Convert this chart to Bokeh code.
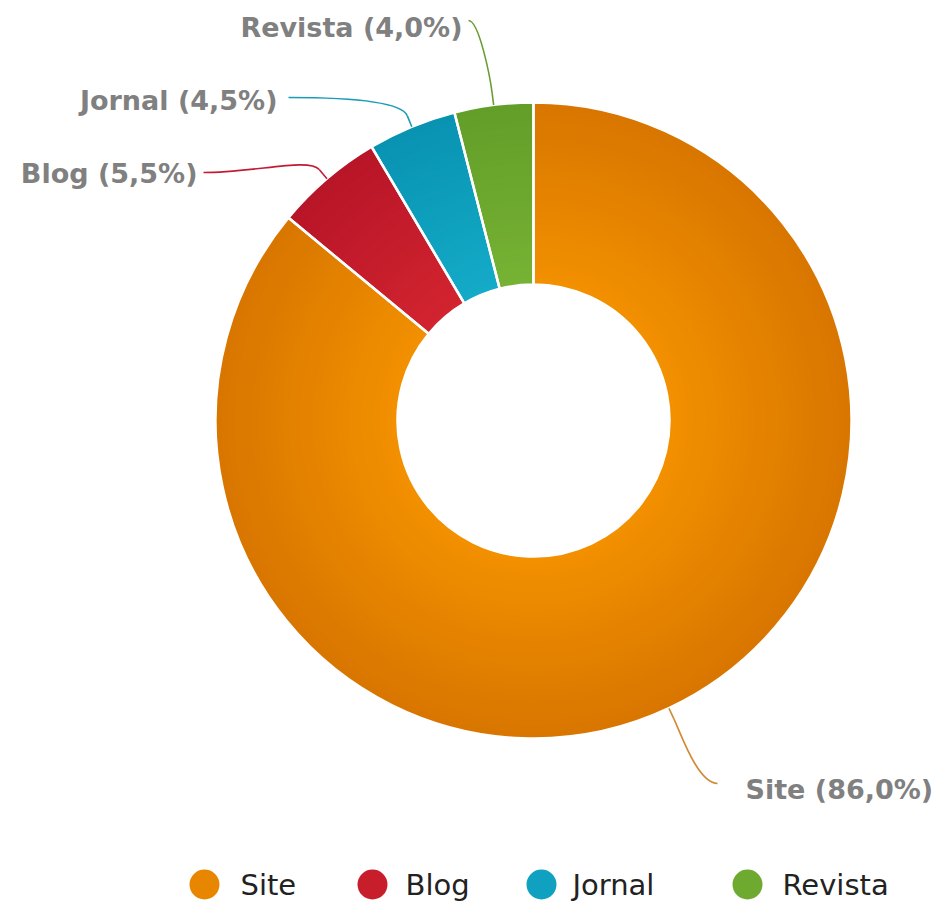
import numpy as np
from bokeh.plotting import figure
from bokeh.models import Range1d, ColumnDataSource
from bokeh.core.properties import value
from bokeh.embed import file_html
from bokeh.resources import INLINE

# ---- data ----
categories = ["Site", "Blog", "Jornal", "Revista"]
shares = [86.0, 5.5, 4.5, 4.0]

# ---- style ----
colors_light = ["#F29000", "#D2242F", "#14ABC8", "#76B233"]
colors_dark = ["#D87600", "#B81528", "#0893B1", "#639E29"]
connector_colors = ["#D08A30", "#C21B35", "#1B9BB5", "#6A9E35"]

W, H = 946, 906


def sx(x):
    return x


def sy(y):
    return H - y


CX, CY = sx(533), sy(420)
R_OUT, R_IN = 318, 136

# label layout (screen px)
label_conn = [(717, 783), (203, 172), (288, 97), (468, 20)]
label_text = [(745, 789), (197, 173), (277, 100), (462, 27)]
label_align = ["left", "right", "right", "right"]
legend_dot_x = [204, 372, 541, 747]
legend_text_x = [240, 405, 572, 782]
legend_y = 884

p = figure(width=W, height=H, output_backend="svg", toolbar_location=None,
           x_range=Range1d(0, W), y_range=Range1d(0, H), min_border=0)
p.axis.visible = False
p.grid.visible = False
p.outline_line_color = None
p.background_fill_color = "white"
p.border_fill_color = "white"

frac = np.array(shares) / sum(shares)
cum = np.concatenate([[0.0], np.cumsum(frac)])
start = np.pi / 2 - 2 * np.pi * cum[:-1]
end = np.pi / 2 - 2 * np.pi * cum[1:]


def hex2rgb(h):
    return np.array([int(h[i:i + 2], 16) for i in (1, 3, 5)], dtype=float)


def mix(a, b, t):
    c = hex2rgb(a) * (1 - t) + hex2rgb(b) * t
    return "#%02x%02x%02x" % tuple(int(round(v)) for v in c)


N = 30
for k in range(N):
    t = k / (N - 1)
    r1 = R_IN + (R_OUT - R_IN) * k / N
    r2 = min(R_IN + (R_OUT - R_IN) * (k + 1) / N + 1.0, R_OUT)
    src = ColumnDataSource(dict(
        start=start, end=end,
        color=[mix(l, d, t) for l, d in zip(colors_light, colors_dark)]))
    p.annular_wedge(x=CX, y=CY, inner_radius=r1, outer_radius=r2,
                    start_angle="start", end_angle="end", direction="clock",
                    fill_color="color", line_color=None, source=src)

# slice borders
p.annular_wedge(x=CX, y=CY, inner_radius=R_IN, outer_radius=R_OUT,
                start_angle=start, end_angle=end, direction="clock",
                fill_color=None, line_color="#FFFFFF", line_width=2.5)

# connectors and data labels
mid = (start + end) / 2
for i, cat in enumerate(categories):
    dx, dy = np.cos(mid[i]), np.sin(mid[i])
    P = (CX + R_OUT * dx, CY + R_OUT * dy)
    B = (CX + (R_OUT + 12) * dx, CY + (R_OUT + 12) * dy)
    C2 = (CX + (R_OUT + 28) * dx, CY + (R_OUT + 28) * dy)
    L = (sx(label_conn[i][0]), sy(label_conn[i][1]))
    C1 = (L[0] + 0.45 * (B[0] - L[0]), L[1])
    p.bezier(x0=L[0], y0=L[1], x1=B[0], y1=B[1], cx0=C1[0], cy0=C1[1],
             cx1=C2[0], cy1=C2[1], line_color=connector_colors[i], line_width=1.6)
    p.segment(x0=B[0], y0=B[1], x1=P[0], y1=P[1],
              line_color=connector_colors[i], line_width=1.6)
    txt = "%s (%s%%)" % (cat, ("%.1f" % shares[i]).replace(".", ","))
    p.text(x=[sx(label_text[i][0])], y=[sy(label_text[i][1])], text=[txt],
           text_font=value("DejaVu Sans"), text_font_style="bold",
           text_font_size="27px", text_color="#808080",
           text_align=label_align[i], text_baseline="middle")

# legend
p.scatter(x=[sx(v) for v in legend_dot_x], y=[sy(legend_y)] * 4, size=30,
          marker="circle", fill_color=[mix(l, d, 0.4) for l, d in zip(colors_light, colors_dark)],
          line_color=None)
p.text(x=[sx(v) for v in legend_text_x], y=[sy(legend_y)] * 4, text=categories,
       text_font=value("DejaVu Sans"), text_font_size="29px", text_color="#222222",
       text_align="left", text_baseline="middle")

open("out.html", "w").write(file_html(p, INLINE))
